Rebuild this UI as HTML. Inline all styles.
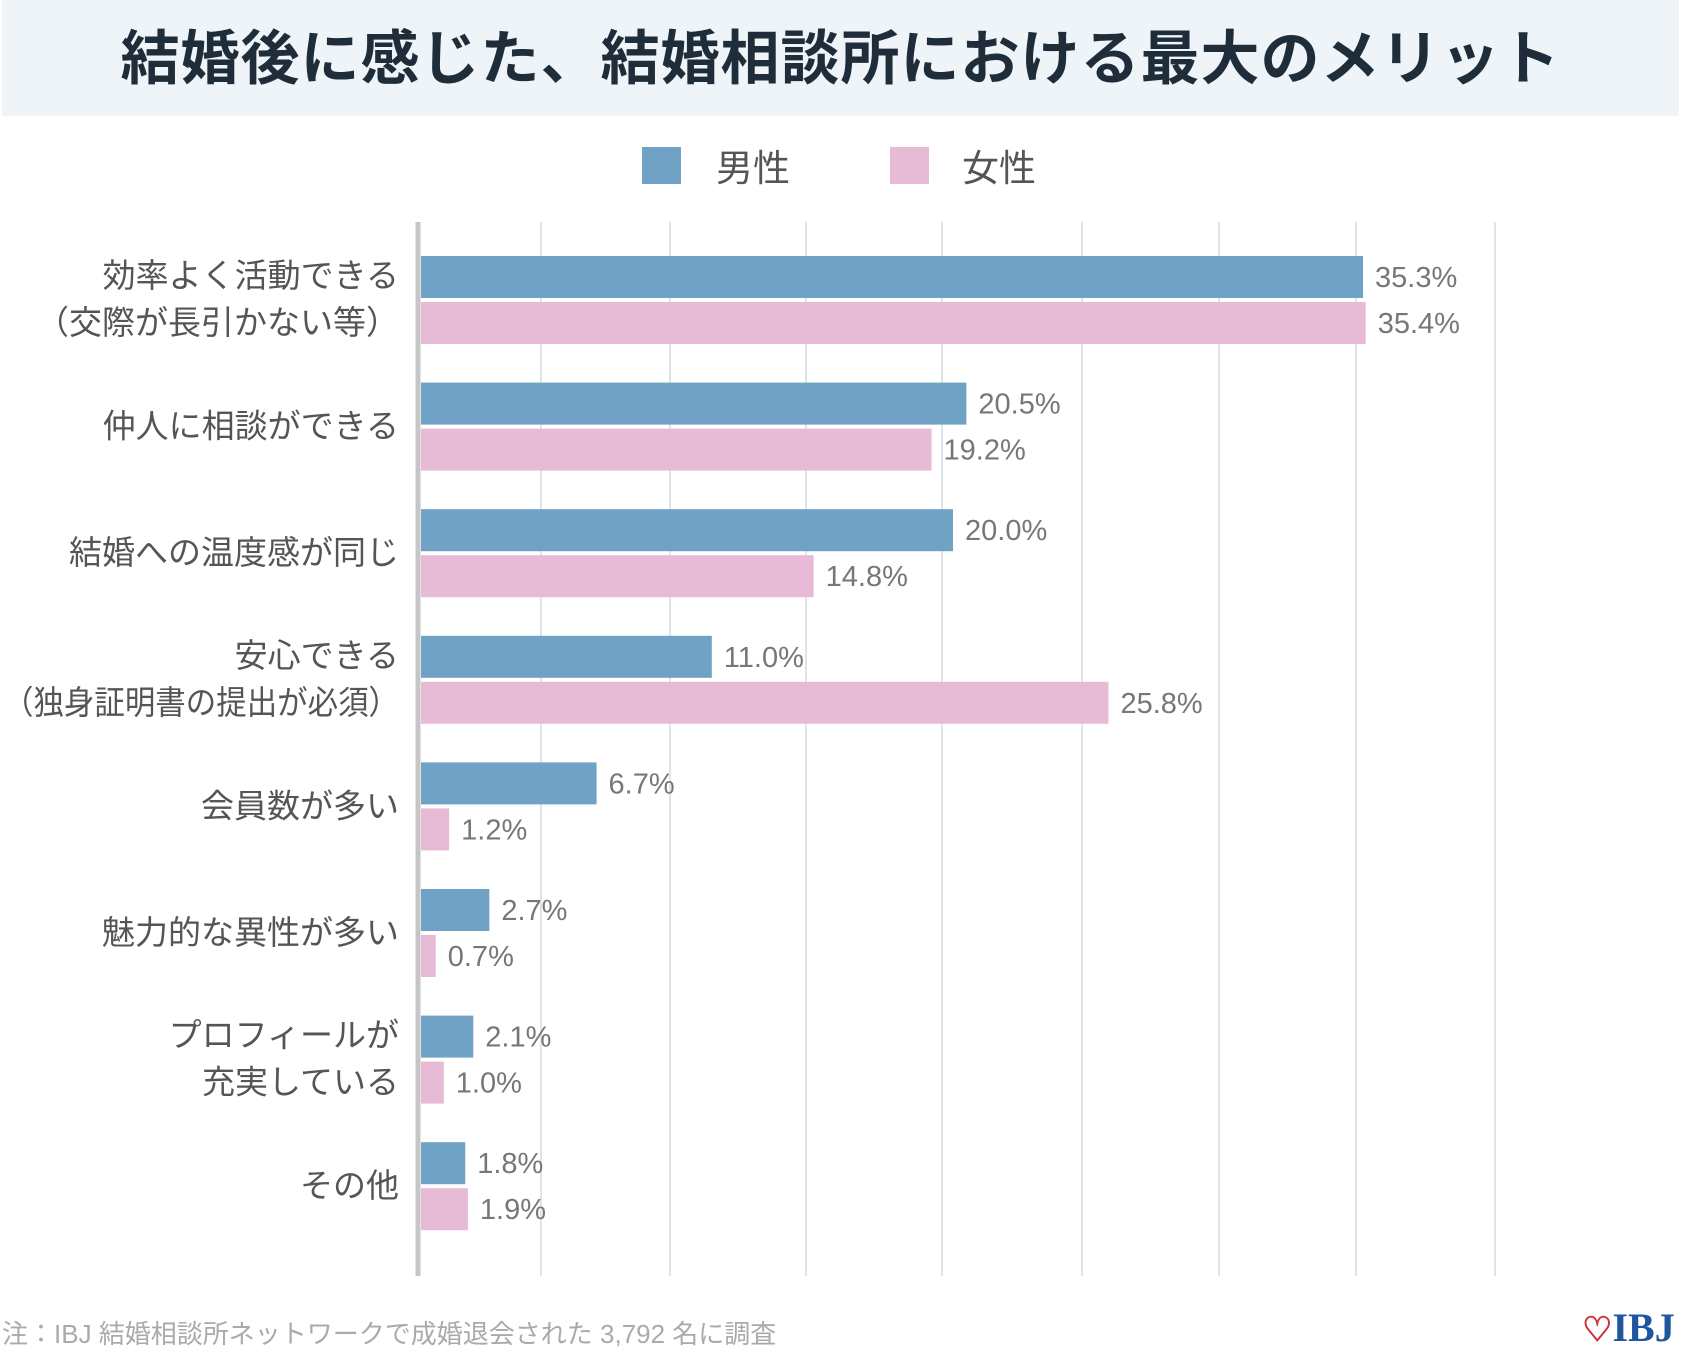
<!DOCTYPE html>
<html><head><meta charset="utf-8"><style>
body{margin:0;width:1681px;height:1350px;background:#fff;position:relative;overflow:hidden;font-family:"Liberation Sans","Noto Sans CJK JP",sans-serif}
#hdr{position:absolute;left:2px;top:0;width:1677px;height:116px;background:#eff4f8}
#ttl{position:absolute;left:0;top:0;width:1681px;height:116px;line-height:118px;text-align:center;font-size:59px;font-weight:bold;color:#1f2d3a;letter-spacing:1px}
.lg{position:absolute;width:39px;height:37px;top:147px}
.lt{position:absolute;top:138px;font-size:37px;color:#555}
#note{position:absolute;left:2px;top:1314px;font-size:26px;color:#aaa}
#logo{position:absolute;left:1582px;top:1304px;font-size:40px;font-family:"Liberation Serif",serif;color:#1f56a0;font-weight:bold}
</style></head><body>
<div id="hdr"></div>
<div id="ttl">結婚後に感じた、結婚相談所における最大のメリット</div>
<div class="lg" style="left:642px;background:#6fa2c5"></div>
<div class="lt" style="left:716px">男性</div>
<div class="lg" style="left:890px;background:#e7bbd6"></div>
<div class="lt" style="left:962px">女性</div>
<svg id="chart" width="1681" height="1350" style="position:absolute;left:0;top:0"></svg>
<div id="note">注：IBJ 結婚相談所ネットワークで成婚退会された 3,792 名に調査</div>
<div id="logo"><span style="color:#d0303a;font-size:34px">♡</span>IBJ</div>
<script>
const categories=[["効率よく活動できる","（交際が長引かない等）"],["仲人に相談ができる"],["結婚への温度感が同じ"],["安心できる","（独身証明書の提出が必須）"],["会員数が多い"],["魅力的な異性が多い"],["プロフィールが","充実している"],["その他"]];
const maleValues=[35.3,20.5,20.0,11.0,6.7,2.7,2.1,1.8];
const femaleValues=[35.4,19.2,14.8,25.8,1.2,0.7,1.0,1.9];
const gridLines=[541,670,806,942,1082,1219,1356,1495];
const NS="http://www.w3.org/2000/svg";
const svg=document.getElementById('chart');
const x0=421;
function xs(v){return 417+26.8*v;}
function ys(i){return 256+i*126.6;}
function mk(t,a){const e=document.createElementNS(NS,t);for(const k in a)e.setAttribute(k,a[k]);svg.appendChild(e);return e;}
gridLines.forEach(gx=>{
  const g=mk('line',{x1:gx,x2:gx,y1:222,y2:1276,stroke:'#dde5ec','stroke-width':2});
  
  
});
const ax=mk('line',{x1:418,x2:418,y1:222,y2:1276,stroke:'#c6c6c6','stroke-width':5});


categories.forEach((c,i)=>{
  const y=ys(i);
  [[maleValues[i],'#6fa2c5',y,'male'],[femaleValues[i],'#e7bbd6',y+46,'female']].forEach(([v,col,by,s])=>{
    const w=Math.max(xs(v)-x0,8);
    const r=mk('rect',{x:x0,y:by,width:w,height:42,fill:col});
    
    
    const t=mk('text',{x:x0+w+12,y:by+31,'font-size':29,fill:'#777'});
    t.textContent=v.toFixed(1)+'%';
    
    
  });
  const mid=y+44;
  c.forEach((line,j)=>{
    const ty=c.length===1?mid+11:mid-13+j*47;
    const t=mk('text',{x:399,y:ty,'font-size':33,fill:'#555','text-anchor':'end'});
    if(line.length>12){t.setAttribute('textLength',396);t.setAttribute('lengthAdjust','spacingAndGlyphs');}
    t.textContent=line;
    
    
  });
});
</script>
</body></html>
